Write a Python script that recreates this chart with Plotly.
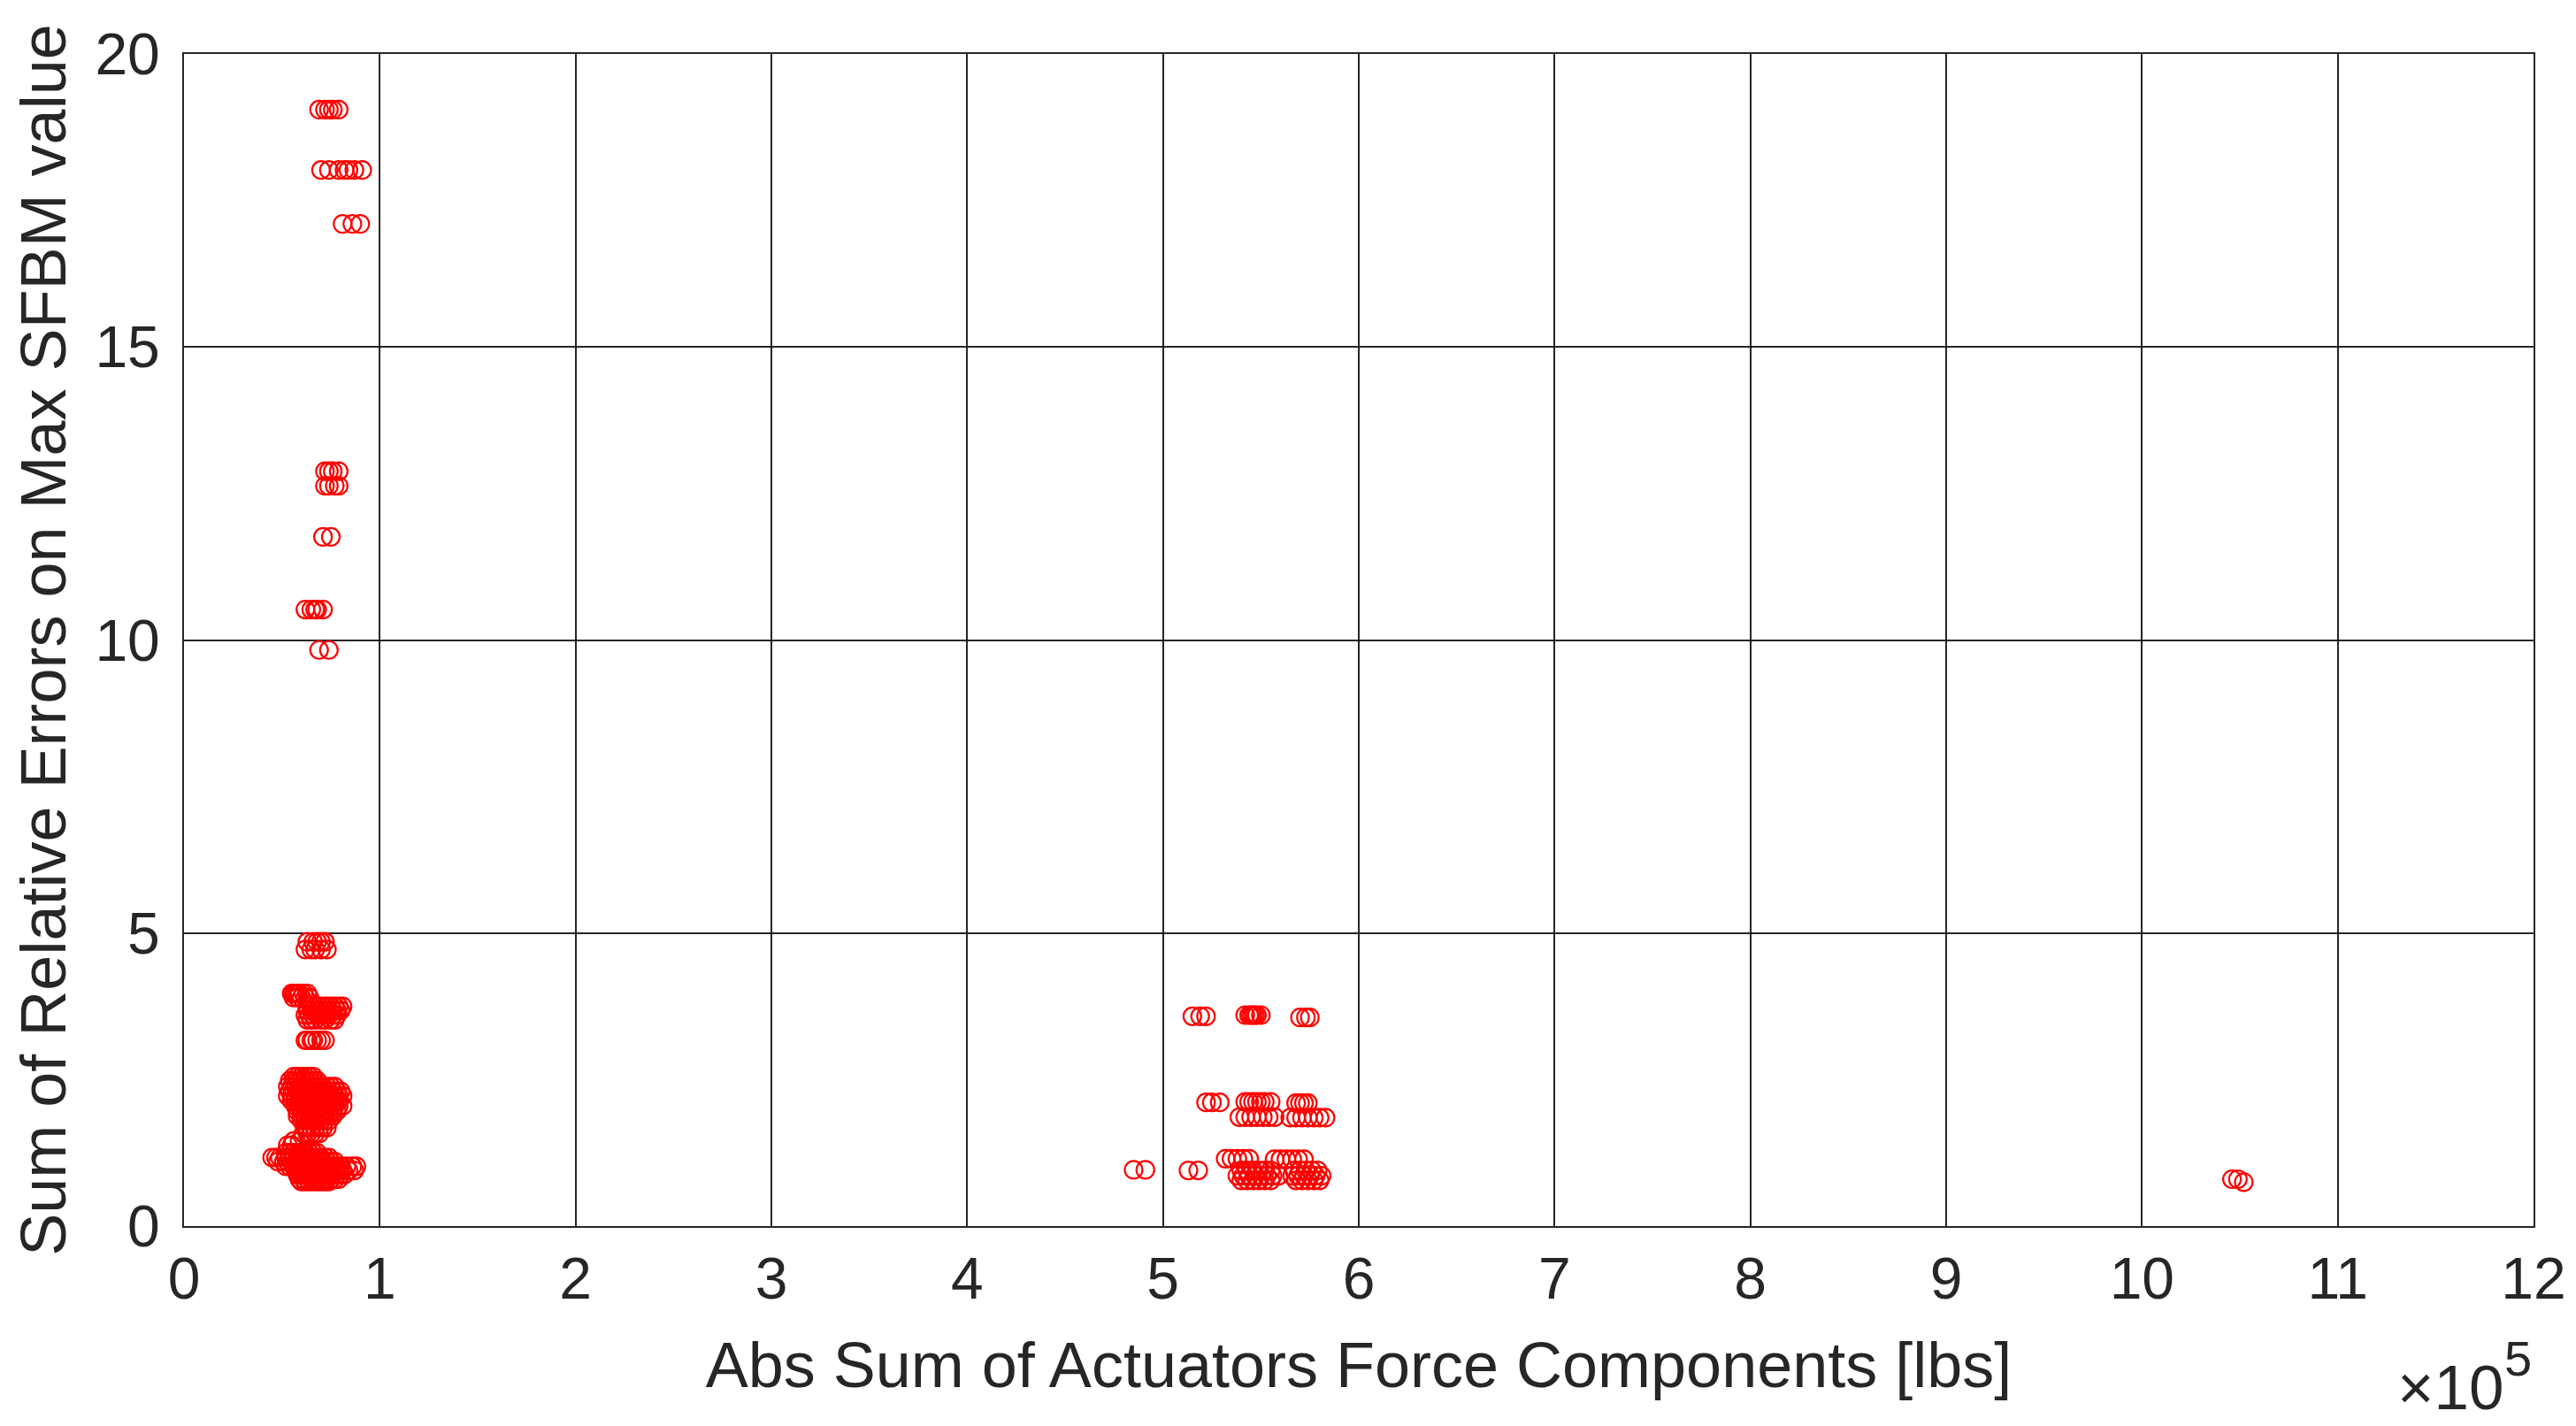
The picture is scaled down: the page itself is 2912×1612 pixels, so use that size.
import plotly.graph_objects as go

# ---- data (x in lbs, y = sum of relative errors) ----
# Each group: one y value per row, and the x values (lbs) read on that row.

top_rows_y = [19.05, 18.02, 17.1, 12.88, 12.63, 11.76, 10.52, 9.83]
top_rows_x = [
    [69000, 72000, 74000, 76000, 79000],
    [70000, 74000, 79000, 82000, 84000, 87000, 91000],
    [81000, 86000, 90000],
    [72000, 74000, 76000, 79000],
    [72000, 74000, 77000, 79000],
    [71000, 75000],
    [62000, 65000, 67000, 68000, 71000],
    [69000, 74000],
]

low_rows_y = [4.85, 4.72, 3.97, 3.9, 3.75, 3.68, 3.6, 3.52, 3.17,
              2.55, 2.48, 2.38, 2.3, 2.22, 2.14, 2.05, 1.96, 1.88, 1.8,
              1.68, 1.58, 1.45, 1.38, 1.25, 1.17, 1.1, 1.02, 0.95, 0.88,
              0.8, 0.76]
low_rows_x = [
    [63000, 66000, 68000, 70000, 72000],
    [62000, 65000, 67000, 70000, 73000],
    [55000, 56000, 57000, 58000, 59000, 61000, 63000],
    [56000, 58000, 60000, 62000, 64000],
    [63000, 65000, 67000, 69000, 71000, 73000, 75000, 77000, 79000, 81000],
    [63000, 66000, 68000, 70000, 72000, 74000, 76000, 78000, 80000],
    [62000, 64000, 66000, 68000, 70000, 72000, 74000, 76000, 78000],
    [63000, 65000, 67000, 70000, 72000, 75000, 77000],
    [62000, 63000, 65000, 66000, 68000, 70000, 72000],
    [56000, 58000, 60000, 62000, 64000, 66000],
    [54000, 56000, 58000, 60000, 62000, 64000, 66000, 68000],
    [53000, 55000, 57000, 59000, 61000, 63000, 65000, 67000, 69000, 71000, 73000, 75000, 77000],
    [54000, 56000, 58000, 60000, 62000, 64000, 66000, 68000, 70000, 72000, 74000, 76000, 78000, 80000],
    [53000, 55000, 57000, 59000, 61000, 63000, 65000, 67000, 69000, 71000, 73000, 75000, 77000, 79000, 81000],
    [55000, 57000, 59000, 61000, 63000, 65000, 67000, 69000, 71000, 73000, 75000, 77000, 79000],
    [57000, 59000, 61000, 63000, 65000, 67000, 69000, 71000, 73000, 75000, 77000, 79000, 81000],
    [58000, 60000, 62000, 64000, 66000, 68000, 70000, 72000, 74000, 76000, 78000],
    [58000, 60000, 62000, 64000, 66000, 68000, 70000, 72000, 74000, 76000],
    [60000, 62000, 64000, 66000, 68000, 70000, 72000, 74000],
    [62000, 63000, 65000, 67000, 69000, 71000, 73000],
    [61000, 63000, 65000, 67000, 69000],
    [56000, 59000],
    [53000, 55000],
    [52000, 54000, 56000, 58000, 60000, 62000, 64000, 66000, 68000],
    [45000, 47000, 49000, 52000, 54000, 56000, 58000, 60000, 62000, 64000, 66000, 68000, 70000, 72000, 74000],
    [48000, 51000, 53000, 55000, 57000, 59000, 61000, 63000, 65000, 67000, 69000, 71000, 73000, 75000, 77000],
    [52000, 54000, 56000, 58000, 60000, 62000, 64000, 66000, 68000, 70000, 72000, 74000, 76000, 78000, 80000, 83000, 86000, 88000],
    [57000, 59000, 61000, 63000, 65000, 67000, 69000, 71000, 73000, 75000, 77000, 79000, 81000, 84000, 87000],
    [58000, 60000, 62000, 64000, 66000, 68000, 70000, 72000, 74000, 76000, 78000, 80000, 82000],
    [59000, 61000, 63000, 65000, 67000, 69000, 71000, 73000, 75000, 77000, 79000],
    [60000, 62000, 64000, 66000, 68000, 70000, 72000, 74000],
]

mid_rows_y = [3.58, 3.6, 3.56, 2.11, 2.12, 2.1, 1.86, 1.85, 1.15, 1.14,
              0.96, 0.95, 0.95, 0.95, 0.86, 0.86, 0.78, 0.78]
mid_rows_x = [
    [515000, 519000, 522000],
    [542000, 544000, 545000, 546000, 547000, 548000, 550000],
    [570000, 573000, 575000],
    [522000, 525000, 529000],
    [542000, 544000, 546000, 548000, 550000, 552000, 555000],
    [568000, 570000, 572000, 574000],
    [539000, 542000, 545000, 548000, 551000, 554000, 557000],
    [565000, 568000, 571000, 574000, 577000, 580000, 583000],
    [532000, 535000, 538000, 541000, 544000],
    [557000, 560000, 563000, 566000, 569000, 572000],
    [485000, 491000],
    [513000, 518000],
    [540000, 543000, 546000, 549000, 552000, 555000],
    [567000, 570000, 573000, 576000, 579000],
    [538000, 541000, 544000, 547000, 550000, 553000, 556000, 559000],
    [566000, 569000, 572000, 575000, 578000, 581000],
    [540000, 543000, 546000, 549000, 552000, 555000],
    [568000, 571000, 574000, 577000, 580000],
]

far_x = [1046000, 1049000, 1052000]
far_y = [0.80, 0.80, 0.75]

x_tickvals = [0, 100000, 200000, 300000, 400000, 500000, 600000,
              700000, 800000, 900000, 1000000, 1100000, 1200000]
x_ticktext = ["0", "1", "2", "3", "4", "5", "6", "7", "8", "9", "10", "11", "12"]
y_tickvals = [0, 5, 10, 15, 20]
y_ticktext = ["0", "5", "10", "15", "20"]

x_all, y_all = [], []
for rows_y, rows_x in ((top_rows_y, top_rows_x), (low_rows_y, low_rows_x),
                       (mid_rows_y, mid_rows_x)):
    for yv, xs in zip(rows_y, rows_x):
        x_all.extend(xs)
        y_all.extend([yv] * len(xs))
x_all.extend(far_x)
y_all.extend(far_y)

FONT = "Liberation Sans, Arial, sans-serif"
TXT = "#262626"

fig = go.Figure()
fig.add_trace(go.Scatter(
    x=x_all, y=y_all, mode="markers",
    marker=dict(symbol="circle-open", size=20, color="#ff0000",
                line=dict(width=2.2, color="#ff0000")),
    showlegend=False, hoverinfo="skip",
))

axis_common = dict(
    showline=True, mirror=True, linecolor=TXT, linewidth=2,
    showgrid=True, gridcolor="rgba(0,0,0,0.85)", gridwidth=1.8,
    zeroline=False, ticks="",
    tickfont=dict(family=FONT, size=66, color=TXT),
)

fig.update_layout(
    width=2912, height=1612,
    margin=dict(l=200, r=56, t=53, b=234),
    paper_bgcolor="white", plot_bgcolor="white",
    font=dict(family=FONT, color=TXT),
    xaxis=dict(range=[0, 1200000], tickvals=x_tickvals, ticktext=x_ticktext,
               ticklabelstandoff=1,
               title=dict(text="Abs Sum of Actuators Force Components [lbs]",
                          font=dict(family=FONT, size=72, color=TXT), standoff=36),
               **axis_common),
    yaxis=dict(range=[0, 20], tickvals=y_tickvals, ticktext=y_ticktext,
               ticklabelstandoff=12,
               title=dict(text="Sum of Relative Errors on Max SFBM value",
                          font=dict(family=FONT, size=72, color=TXT), standoff=9),
               **axis_common),
    annotations=[
        dict(text="×10", xref="paper", yref="paper",
             x=0.988, y=-0.1374, xanchor="right", yanchor="middle",
             showarrow=False, font=dict(family=FONT, size=71, color=TXT)),
        dict(text="5", xref="paper", yref="paper",
             x=1.0, y=-0.1132, xanchor="right", yanchor="middle",
             showarrow=False, font=dict(family=FONT, size=56, color=TXT)),
    ],
)

fig.write_html("out.html")
